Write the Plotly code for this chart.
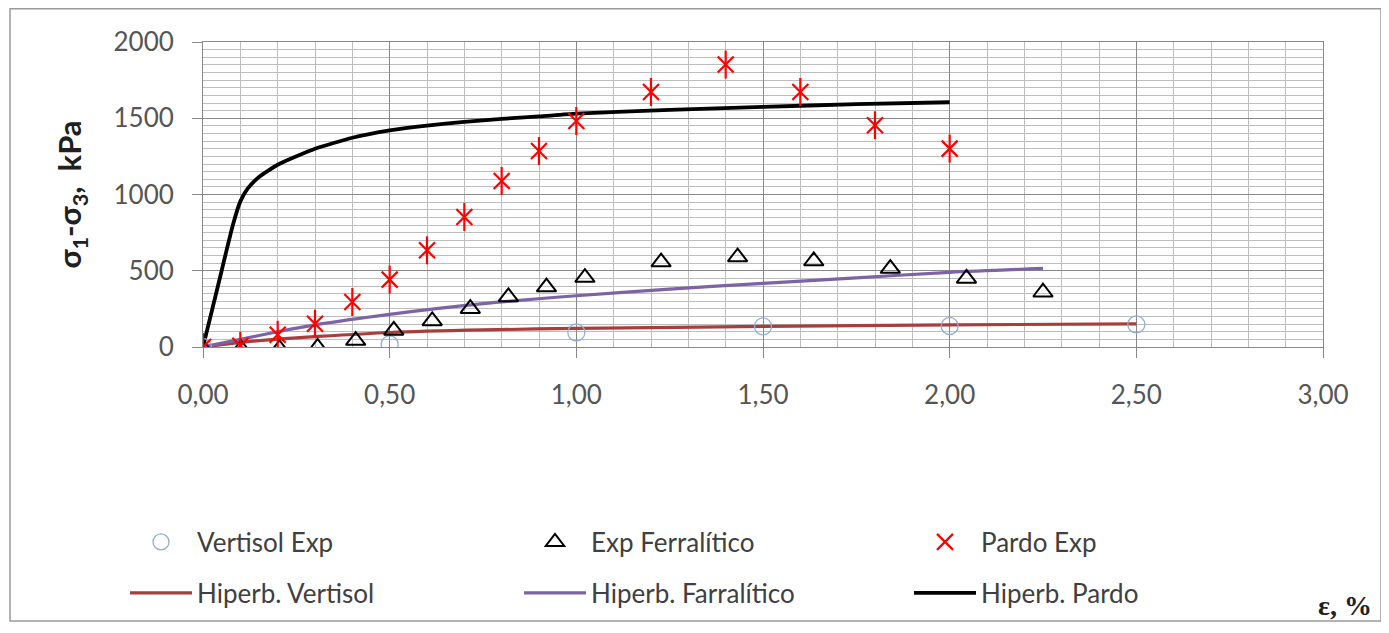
import plotly.graph_objects as go

# ---------------- data ----------------
strain_vert = [0.0, 0.5, 1.0, 1.5, 2.0, 2.5]
vert_exp = [0, 18, 95, 135, 138, 148]

strain_ferr = [0.0, 0.102, 0.205, 0.307, 0.409, 0.511, 0.614, 0.716, 0.818,
               0.920, 1.023, 1.227, 1.432, 1.636, 1.841, 2.045, 2.250]
ferr_exp = [-10, -12, -12, -3, 42, 109, 171, 251, 328, 393, 455, 557, 590,
            564, 514, 450, 359]

strain_pardo = [0.0, 0.1, 0.2, 0.3, 0.4, 0.5, 0.6, 0.7, 0.8, 0.9, 1.0,
                1.2, 1.4, 1.6, 1.8, 2.0]
pardo_exp = [0, 8, 80, 153, 295, 442, 634, 853, 1089, 1285, 1482,
             1672, 1852, 1672, 1454, 1301]

hyp_vert_x = [0.0, 0.1, 0.2, 0.3, 0.5, 0.75, 1.0, 1.5, 2.0, 2.5]
hyp_vert_y = [0, 30, 52, 68, 95, 112, 122, 135, 145, 152]

hyp_ferr_x = [0.0, 0.1, 0.2, 0.3, 0.5, 0.75, 1.0, 1.25, 1.5, 1.75, 2.0, 2.25]
hyp_ferr_y = [0, 50, 100, 145, 214, 284, 336, 380, 417, 453, 490, 515]

hyp_pardo_x = [0.0, 0.04, 0.08, 0.1, 0.12, 0.15, 0.2, 0.3, 0.4, 0.5, 0.6,
               0.7, 0.8, 0.9, 1.0, 1.25, 1.5, 1.75, 2.0]
hyp_pardo_y = [0, 400, 800, 955, 1040, 1115, 1195, 1300, 1372, 1420, 1452,
               1476, 1496, 1512, 1530, 1555, 1575, 1592, 1605]

x_tickvals = [0.0, 0.5, 1.0, 1.5, 2.0, 2.5, 3.0]
x_ticktext = ["0,00", "0,50", "1,00", "1,50", "2,00", "2,50", "3,00"]
y_tickvals = [0, 500, 1000, 1500, 2000]
y_ticktext = ["0", "500", "1000", "1500", "2000"]

# ---------------- figure ----------------
# the page body has an 8 px margin, so the figure is drawn 8 px smaller
OFF = 8
W, H = 1389 - OFF, 633 - OFF
ML, MR, MT, MB = 203 - OFF, 66, 42 - OFF, 286
PW, PH = W - ML - MR, H - MT - MB


def px_x(p):  # screen px (reference) -> paper x
    return (p - OFF - ML) / PW


def px_y(p):  # screen px (reference) -> paper y
    return (H - MB - (p - OFF)) / PH


TXT = "#404040"
FONT = "Lato"

fig = go.Figure()

# fitted hyperbolic curves
fig.add_trace(go.Scatter(x=hyp_vert_x, y=hyp_vert_y, mode="lines", name="Hiperb. Vertisol",
                         line=dict(color="#A63E3C", width=3.2, shape="spline", smoothing=0.8),
                         legend="legend4"))
fig.add_trace(go.Scatter(x=hyp_ferr_x, y=hyp_ferr_y, mode="lines", name="Hiperb. Farralítico",
                         line=dict(color="#7D63A6", width=3.2, shape="spline", smoothing=0.8),
                         legend="legend5"))
fig.add_trace(go.Scatter(x=hyp_pardo_x, y=hyp_pardo_y, mode="lines", name="Hiperb. Pardo",
                         line=dict(color="#000000", width=3.8, shape="spline", smoothing=0.5),
                         legend="legend6"))

# experimental points
fig.add_trace(go.Scatter(x=strain_vert, y=vert_exp, mode="markers", name="Vertisol Exp",
                         marker=dict(symbol="circle-open", size=17, color="#8FAFD6",
                                     line=dict(width=1.3, color="#8FAFD6")),
                         legend="legend"))
fig.add_trace(go.Scatter(x=strain_ferr, y=ferr_exp, mode="markers", name="Exp Ferralítico",
                         marker=dict(symbol="triangle-up-open", size=17, color="#000000",
                                     line=dict(width=2, color="#000000")),
                         legend="legend2"))
fig.add_trace(go.Scatter(x=strain_pardo, y=pardo_exp, mode="markers", name="Pardo Exp",
                         legendgroup="pardo",
                         marker=dict(symbol="x-thin-open", size=16, color="#FF0000",
                                     line=dict(width=2.2, color="#FF0000")),
                         legend="legend3"))
fig.add_trace(go.Scatter(x=strain_pardo, y=pardo_exp, mode="markers", name="Pardo Exp",
                         legendgroup="pardo", showlegend=False,
                         marker=dict(symbol="line-ns-open", size=20, color="#FF0000",
                                     line=dict(width=2.2, color="#FF0000")),
                         legend="legend3"))

MAJOR = "#888888"
MINOR = "#bdbdbd"

fig.update_xaxes(range=[0, 3], tickmode="array", tickvals=x_tickvals, ticktext=x_ticktext,
                 showgrid=True, gridcolor=MAJOR, gridwidth=1,
                 minor=dict(tickmode="linear", tick0=0, dtick=0.1, showgrid=True,
                            gridcolor=MINOR, gridwidth=1, ticks=""),
                 ticks="outside", ticklen=10, tickcolor=MAJOR, tickwidth=1,
                 showline=True, linecolor=MAJOR, linewidth=1, mirror=True,
                 zeroline=False, ticklabelstandoff=15,
                 tickfont=dict(family=FONT, size=26, color="#555555"))
fig.update_yaxes(range=[0, 2000], tickmode="array", tickvals=y_tickvals, ticktext=y_ticktext,
                 showgrid=True, gridcolor=MAJOR, gridwidth=1,
                 minor=dict(tickmode="linear", tick0=0, dtick=50, showgrid=True,
                            gridcolor=MINOR, gridwidth=1, ticks=""),
                 ticks="outside", ticklen=10, tickcolor=MAJOR, tickwidth=1,
                 showline=True, linecolor=MAJOR, linewidth=1, mirror=True,
                 zeroline=False, ticklabelstandoff=13,
                 tickfont=dict(family=FONT, size=26, color="#555555"),
                 title=dict(text="<b>σ<sub>1</sub>-σ<sub>3</sub>,  kPa</b>", standoff=22,
                            font=dict(family=FONT, size=31, color="#202020")))

# legends: one per entry, laid out in a 3 x 2 grid
leg_font = dict(family=FONT, size=26, color=TXT)
row1, row2 = 542, 593
text_cols = [197, 591, 981]
ITEMW = 62
legend_layout = {}
names = ["legend", "legend2", "legend3", "legend4", "legend5", "legend6"]
for i, nm in enumerate(names):
    tx = text_cols[i % 3] - (ITEMW + 10)
    cy = row1 if i < 3 else row2
    legend_layout[nm] = dict(x=px_x(tx), y=px_y(cy), xanchor="left", yanchor="middle",
                             font=leg_font, bgcolor="rgba(0,0,0,0)", borderwidth=0,
                             orientation="v", itemwidth=ITEMW)

fig.update_layout(
    width=W, height=H, autosize=False,
    margin=dict(l=ML, r=MR, t=MT, b=MB),
    plot_bgcolor="white", paper_bgcolor="white",
    showlegend=True,
    **legend_layout,
)

# x-axis title (bottom right, serif bold)
fig.add_annotation(text="<b>ε, %</b>", xref="paper", yref="paper",
                   x=px_x(1374), y=px_y(605), xanchor="right", yanchor="middle",
                   showarrow=False, font=dict(family="Liberation Serif", size=28, color="#202020"))

# chart frame
fig.add_shape(type="rect", xref="paper", yref="paper",
              x0=px_x(10), x1=px_x(1381), y0=px_y(621), y1=px_y(8.8),
              line=dict(color="#9a9a9a", width=1.5), layer="below")

fig.write_html("out.html")
